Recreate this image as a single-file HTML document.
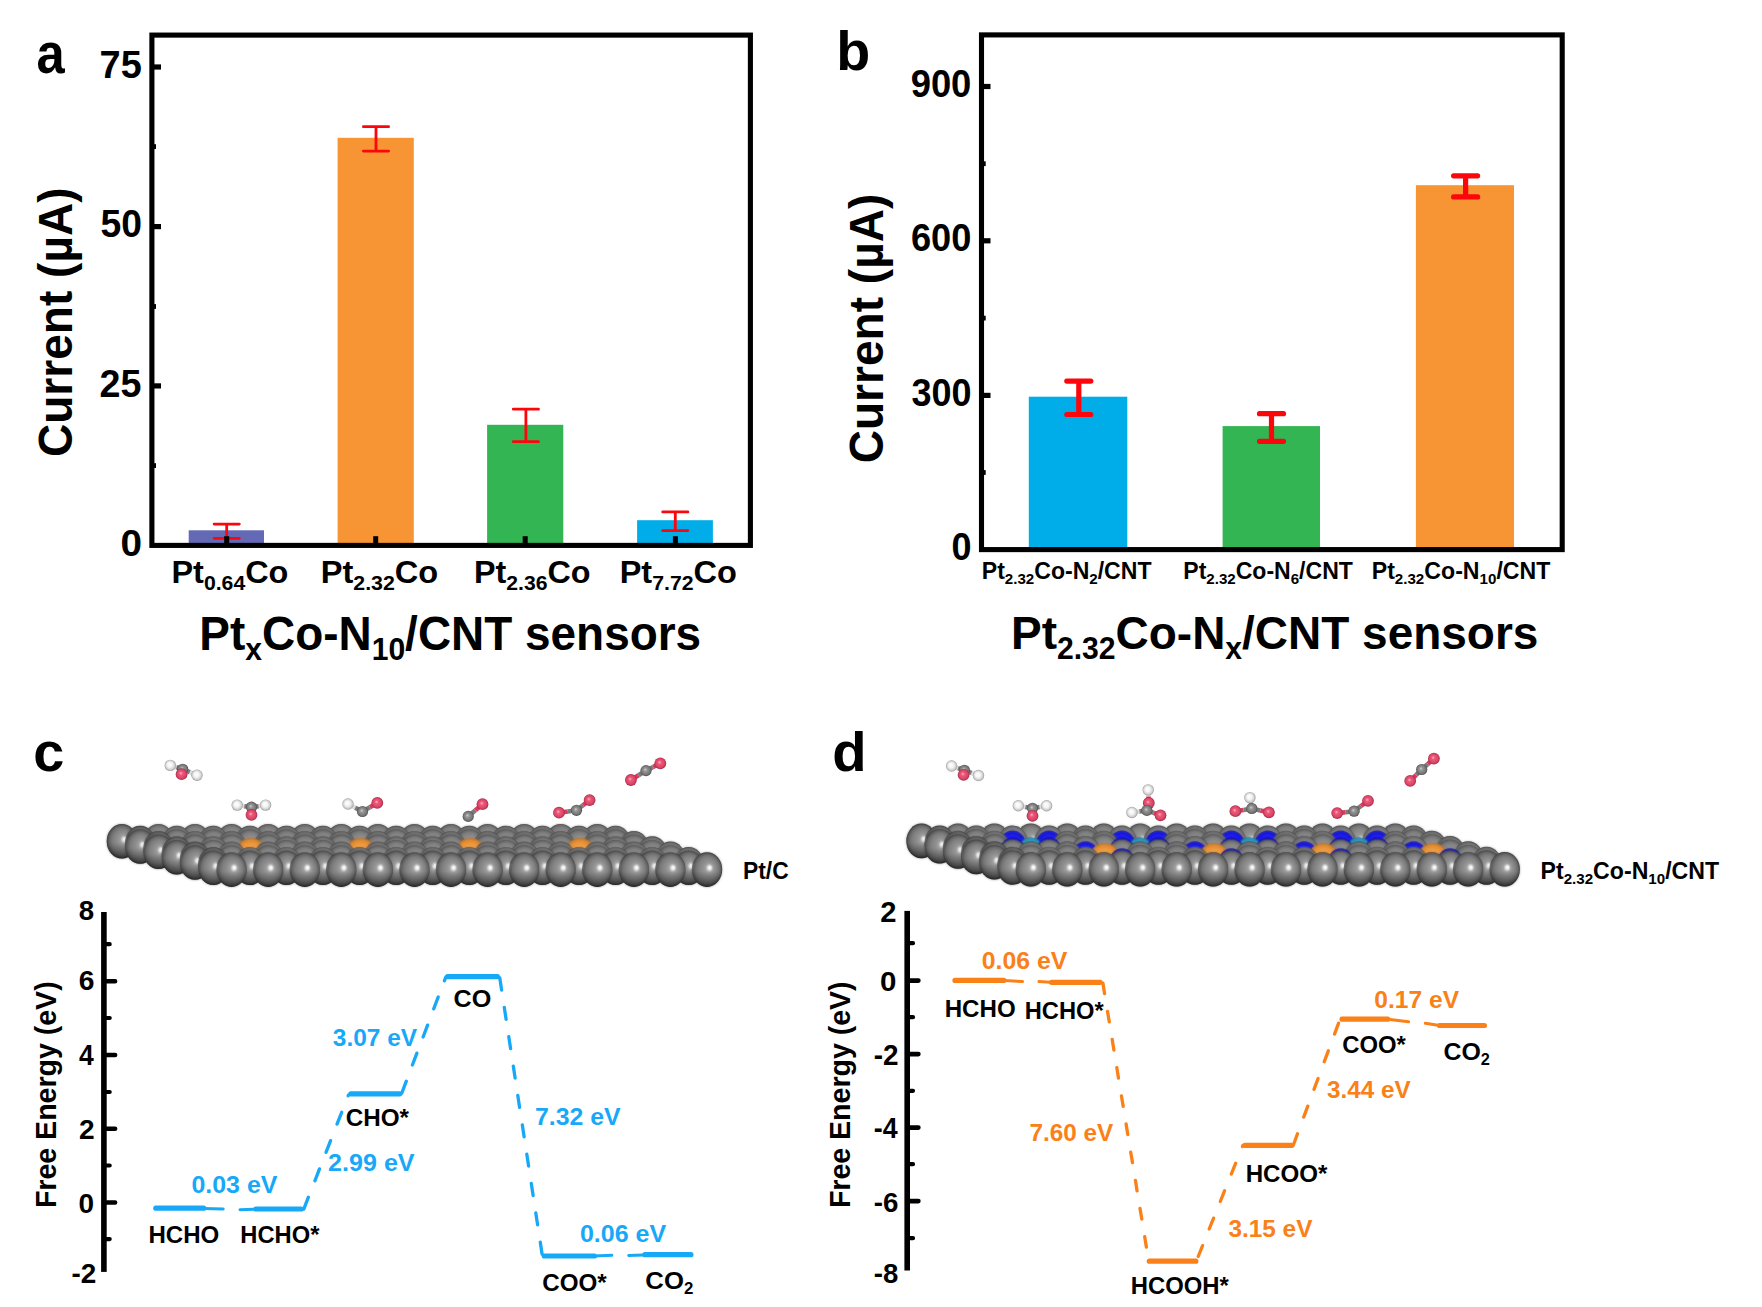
<!DOCTYPE html>
<html><head><meta charset="utf-8"><title>Figure</title>
<style>html,body{margin:0;padding:0;background:#fff;}svg{display:block;}text{font-family:"Liberation Sans",sans-serif;font-weight:bold;}</style></head>
<body>
<svg width="1762" height="1307" viewBox="0 0 1762 1307">
<defs>
<radialGradient id="gC" cx="0.5" cy="0.5" r="0.5" fx="0.6" fy="0.44"><stop offset="0" stop-color="#ffffff"/><stop offset="0.08" stop-color="#ffffff"/><stop offset="0.15" stop-color="#d2d2d2"/><stop offset="0.24" stop-color="#9e9e9e"/><stop offset="0.42" stop-color="#8e8e8e"/><stop offset="0.62" stop-color="#828282"/><stop offset="0.8" stop-color="#707070"/><stop offset="0.9" stop-color="#5c5c5c"/><stop offset="0.96" stop-color="#464646"/><stop offset="1" stop-color="#323232"/></radialGradient>
<radialGradient id="gCt" cx="0.5" cy="0.5" r="0.5" fx="0.6" fy="0.44"><stop offset="0" stop-color="#ffffff"/><stop offset="0.08" stop-color="#ffffff"/><stop offset="0.15" stop-color="#d2d2d2"/><stop offset="0.24" stop-color="#9e9e9e"/><stop offset="0.42" stop-color="#909090"/><stop offset="0.62" stop-color="#888888"/><stop offset="0.8" stop-color="#7c7c7c"/><stop offset="0.9" stop-color="#6c6c6c"/><stop offset="0.96" stop-color="#585858"/><stop offset="1" stop-color="#424242"/></radialGradient>
<linearGradient id="shade" x1="0" y1="0" x2="0" y2="1"><stop offset="0" stop-color="#000" stop-opacity="0"/><stop offset="0.55" stop-color="#000" stop-opacity="0"/><stop offset="1" stop-color="#000" stop-opacity="0.42"/></linearGradient>
<radialGradient id="gPt" cx="0.5" cy="0.5" r="0.5" fx="0.5" fy="0.5"><stop offset="0" stop-color="#f6a84e"/><stop offset="0.6" stop-color="#f09c42"/><stop offset="0.88" stop-color="#dc8a30"/><stop offset="1" stop-color="#b06a20"/></radialGradient>
<radialGradient id="gN" cx="0.5" cy="0.5" r="0.5" fx="0.5" fy="0.5"><stop offset="0" stop-color="#2424ff"/><stop offset="0.7" stop-color="#1c1cf4"/><stop offset="0.92" stop-color="#1414cc"/><stop offset="1" stop-color="#0a0a90"/></radialGradient>
<radialGradient id="gCo" cx="0.5" cy="0.5" r="0.5" fx="0.5" fy="0.5"><stop offset="0" stop-color="#34b4d8"/><stop offset="0.7" stop-color="#2aa6cc"/><stop offset="0.92" stop-color="#208cb0"/><stop offset="1" stop-color="#146080"/></radialGradient>
<radialGradient id="sH" cx="0.5" cy="0.5" r="0.5" fx="0.42" fy="0.4"><stop offset="0" stop-color="#ffffff"/><stop offset="0.45" stop-color="#f4f4f4"/><stop offset="0.8" stop-color="#cfcfcf"/><stop offset="1" stop-color="#9a9a9a"/></radialGradient>
<radialGradient id="sO" cx="0.5" cy="0.5" r="0.5" fx="0.42" fy="0.4"><stop offset="0" stop-color="#ffb4c4"/><stop offset="0.3" stop-color="#ee5a7a"/><stop offset="0.75" stop-color="#da4466"/><stop offset="1" stop-color="#a02c4a"/></radialGradient>
<radialGradient id="sC" cx="0.5" cy="0.5" r="0.5" fx="0.42" fy="0.4"><stop offset="0" stop-color="#d0d0d0"/><stop offset="0.3" stop-color="#969696"/><stop offset="0.8" stop-color="#747474"/><stop offset="1" stop-color="#4a4a4a"/></radialGradient>
<filter id="soft" x="-5%" y="-20%" width="110%" height="140%"><feGaussianBlur stdDeviation="0.75"/></filter>
<filter id="soft2" x="-5%" y="-20%" width="110%" height="140%"><feGaussianBlur stdDeviation="1.0"/></filter>
</defs>
<g id="pa">
<rect x="188.7" y="530.3" width="75.3" height="15.1" fill="#6369B5"/>
<rect x="337.6" y="137.8" width="76.2" height="407.6" fill="#F79433"/>
<rect x="487.1" y="424.8" width="76.2" height="120.6" fill="#33B554"/>
<rect x="637.1" y="520.2" width="75.8" height="25.2" fill="#00ADE9"/>
<rect x="151.9" y="35.1" width="598.5" height="510.3" fill="none" stroke="#000" stroke-width="5.1"/>
<rect x="154" y="64.4" width="7" height="5.2" fill="#000"/>
<rect x="154" y="224.0" width="7" height="5.2" fill="#000"/>
<rect x="154" y="383.29999999999995" width="7" height="5.2" fill="#000"/>
<rect x="154" y="144.2" width="2" height="4.8" fill="#000"/>
<rect x="154" y="304.1" width="2" height="4.8" fill="#000"/>
<rect x="154" y="463.20000000000005" width="2" height="4.8" fill="#000"/>
<path d="M214.1 524.1H239.29999999999998M214.1 538.3H239.29999999999998M226.7 524.1V538.3" stroke="#FC060C" stroke-width="2.8" fill="none" stroke-linecap="round"/>
<path d="M363.4 126.7H388.6M363.4 151.1H388.6M376.0 126.7V151.1" stroke="#FC060C" stroke-width="2.8" fill="none" stroke-linecap="round"/>
<path d="M513.3 409.2H538.5M513.3 441.7H538.5M525.9 409.2V441.7" stroke="#FC060C" stroke-width="2.8" fill="none" stroke-linecap="round"/>
<path d="M662.6999999999999 511.9H687.9M662.6999999999999 530.6H687.9M675.3 511.9V530.6" stroke="#FC060C" stroke-width="2.8" fill="none" stroke-linecap="round"/>
<rect x="224.2" y="536.2" width="5" height="8" fill="#000"/>
<rect x="373.2" y="536.2" width="5" height="8" fill="#000"/>
<rect x="522.7" y="536.2" width="5" height="8" fill="#000"/>
<rect x="672.9" y="536.2" width="5" height="8" fill="#000"/>
<text transform="translate(99.58,77.66) scale(1,1.0247)" font-size="37.99" fill="#000">75</text>
<text transform="translate(100.48,237.01) scale(1,1.0420)" font-size="37.31" fill="#000">50</text>
<text transform="translate(99.58,396.52) scale(1,1.0146)" font-size="37.62" fill="#000">25</text>
<text transform="translate(120.55,555.63) scale(1,0.9672)" font-size="38.74" fill="#000">0</text>
<text transform="translate(171.49,582.80) scale(1,0.9832)" font-size="32.43" fill="#000">Pt<tspan dy="6.97" font-size="21.24">0.64</tspan><tspan dy="-6.97">Co</tspan></text>
<text transform="translate(320.68,582.80) scale(1,0.9780)" font-size="32.60" fill="#000">Pt<tspan dy="7.01" font-size="21.35">2.32</tspan><tspan dy="-7.01">Co</tspan></text>
<text transform="translate(473.90,582.80) scale(1,0.9858)" font-size="32.34" fill="#000">Pt<tspan dy="6.95" font-size="21.18">2.36</tspan><tspan dy="-6.95">Co</tspan></text>
<text transform="translate(619.69,582.80) scale(1,0.9806)" font-size="32.51" fill="#000">Pt<tspan dy="6.99" font-size="21.30">7.72</tspan><tspan dy="-6.99">Co</tspan></text>
<text transform="translate(199.31,649.90) scale(1,1.0317)" font-size="45.93" fill="#000">Pt<tspan dy="9.88" font-size="30.09">x</tspan><tspan dy="-9.88">Co-N</tspan><tspan dy="9.88" font-size="30.09">10</tspan><tspan dy="-9.88">/CNT sensors</tspan></text>
<text transform="translate(71.90,457.04) rotate(-90) scale(1,1.0412)" font-size="46.07" fill="#000">Current (µA)</text>
<text transform="translate(36.38,72.63) scale(1,1.1199)" font-size="50.65" fill="#000">a</text>
</g>
<g id="pb">
<rect x="1028.8" y="396.7" width="98.5" height="152.9" fill="#00ADE9"/>
<rect x="1222.6" y="426.1" width="97.4" height="123.5" fill="#33B554"/>
<rect x="1415.9" y="185.2" width="98.1" height="364.4" fill="#F79433"/>
<rect x="981.5" y="34.9" width="580.7" height="514.7" fill="none" stroke="#000" stroke-width="5.1"/>
<rect x="983.5" y="83.9" width="7" height="5.2" fill="#000"/>
<rect x="983.5" y="238.20000000000002" width="7" height="5.2" fill="#000"/>
<rect x="983.5" y="392.79999999999995" width="7" height="5.2" fill="#000"/>
<rect x="983.5" y="161.29999999999998" width="2.2" height="4.8" fill="#000"/>
<rect x="983.5" y="315.70000000000005" width="2.2" height="4.8" fill="#000"/>
<rect x="983.5" y="470.1" width="2.2" height="4.8" fill="#000"/>
<path d="M1066.8 381.1H1090.8M1066.8 414.5H1090.8M1078.8 381.1V414.5" stroke="#FC060C" stroke-width="5.2" fill="none" stroke-linecap="round"/>
<path d="M1259.5 413.7H1283.5M1259.5 441.3H1283.5M1271.5 413.7V441.3" stroke="#FC060C" stroke-width="5.2" fill="none" stroke-linecap="round"/>
<path d="M1453.6 175.8H1477.6M1453.6 196.9H1477.6M1465.6 175.8V196.9" stroke="#FC060C" stroke-width="5.2" fill="none" stroke-linecap="round"/>
<text transform="translate(910.63,96.72) scale(1,1.0443)" font-size="36.42" fill="#000">900</text>
<text transform="translate(910.93,251.41) scale(1,1.0653)" font-size="36.23" fill="#000">600</text>
<text transform="translate(911.50,406.21) scale(1,1.0759)" font-size="36.00" fill="#000">300</text>
<text transform="translate(951.46,559.82) scale(1,1.0524)" font-size="36.00" fill="#000">0</text>
<text transform="translate(981.80,578.80) scale(1,1.0238)" font-size="23.07" fill="#000">Pt<tspan dy="4.96" font-size="15.11">2.32</tspan><tspan dy="-4.96">Co-N</tspan><tspan dy="4.96" font-size="15.11">2</tspan><tspan dy="-4.96">/CNT</tspan></text>
<text transform="translate(1183.30,578.80) scale(1,1.0250)" font-size="23.05" fill="#000">Pt<tspan dy="4.96" font-size="15.10">2.32</tspan><tspan dy="-4.96">Co-N</tspan><tspan dy="4.96" font-size="15.10">6</tspan><tspan dy="-4.96">/CNT</tspan></text>
<text transform="translate(1371.70,578.80) scale(1,1.0210)" font-size="23.14" fill="#000">Pt<tspan dy="4.97" font-size="15.15">2.32</tspan><tspan dy="-4.97">Co-N</tspan><tspan dy="4.97" font-size="15.15">10</tspan><tspan dy="-4.97">/CNT</tspan></text>
<text transform="translate(1011.01,648.50) scale(1,1.0181)" font-size="45.98" fill="#000">Pt<tspan dy="9.89" font-size="30.12">2.32</tspan><tspan dy="-9.89">Co-N</tspan><tspan dy="9.89" font-size="30.12">x</tspan><tspan dy="-9.89">/CNT sensors</tspan></text>
<text transform="translate(883.00,463.34) rotate(-90) scale(1,1.0408)" font-size="46.09" fill="#000">Current (µA)</text>
<text transform="translate(836.28,70.05) scale(1,0.9927)" font-size="55.64" fill="#000">b</text>
</g>
<g filter="url(#soft)"><g id="slabc">
<ellipse cx="121.9" cy="841.2" rx="15.2" ry="17.3" fill="url(#gC)"/>
<ellipse cx="121.9" cy="841.2" rx="15.2" ry="17.3" fill="url(#shade)"/>
<ellipse cx="158.5" cy="841.2" rx="15.2" ry="17.3" fill="url(#gCt)"/>
<ellipse cx="195.0" cy="841.2" rx="15.2" ry="17.3" fill="url(#gCt)"/>
<ellipse cx="231.6" cy="841.2" rx="15.2" ry="17.3" fill="url(#gCt)"/>
<ellipse cx="268.2" cy="841.2" rx="15.2" ry="17.3" fill="url(#gCt)"/>
<ellipse cx="304.8" cy="841.2" rx="15.2" ry="17.3" fill="url(#gCt)"/>
<ellipse cx="341.3" cy="841.2" rx="15.2" ry="17.3" fill="url(#gCt)"/>
<ellipse cx="377.9" cy="841.2" rx="15.2" ry="17.3" fill="url(#gCt)"/>
<ellipse cx="414.5" cy="841.2" rx="15.2" ry="17.3" fill="url(#gCt)"/>
<ellipse cx="451.0" cy="841.2" rx="15.2" ry="17.3" fill="url(#gCt)"/>
<ellipse cx="487.6" cy="841.2" rx="15.2" ry="17.3" fill="url(#gCt)"/>
<ellipse cx="524.2" cy="841.2" rx="15.2" ry="17.3" fill="url(#gCt)"/>
<ellipse cx="560.7" cy="841.2" rx="15.2" ry="17.3" fill="url(#gCt)"/>
<ellipse cx="597.3" cy="841.2" rx="15.2" ry="17.3" fill="url(#gCt)"/>
<ellipse cx="140.2" cy="843.0" rx="15.2" ry="17.3" fill="url(#gC)"/>
<ellipse cx="140.2" cy="843.0" rx="15.2" ry="17.3" fill="url(#shade)"/>
<ellipse cx="176.8" cy="843.0" rx="15.2" ry="17.3" fill="url(#gCt)"/>
<ellipse cx="213.3" cy="843.0" rx="15.2" ry="17.3" fill="url(#gCt)"/>
<ellipse cx="249.9" cy="843.0" rx="15.2" ry="17.3" fill="url(#gCt)"/>
<ellipse cx="286.5" cy="843.0" rx="15.2" ry="17.3" fill="url(#gCt)"/>
<ellipse cx="323.0" cy="843.0" rx="15.2" ry="17.3" fill="url(#gCt)"/>
<ellipse cx="359.6" cy="843.0" rx="15.2" ry="17.3" fill="url(#gCt)"/>
<ellipse cx="396.2" cy="843.0" rx="15.2" ry="17.3" fill="url(#gCt)"/>
<ellipse cx="432.7" cy="843.0" rx="15.2" ry="17.3" fill="url(#gCt)"/>
<ellipse cx="469.3" cy="843.0" rx="15.2" ry="17.3" fill="url(#gCt)"/>
<ellipse cx="505.9" cy="843.0" rx="15.2" ry="17.3" fill="url(#gCt)"/>
<ellipse cx="542.5" cy="843.0" rx="15.2" ry="17.3" fill="url(#gCt)"/>
<ellipse cx="579.0" cy="843.0" rx="15.2" ry="17.3" fill="url(#gCt)"/>
<ellipse cx="615.6" cy="843.0" rx="15.2" ry="17.3" fill="url(#gCt)"/>
<ellipse cx="140.2" cy="846.5" rx="15.2" ry="17.3" fill="url(#gC)"/>
<ellipse cx="140.2" cy="846.5" rx="15.2" ry="17.3" fill="url(#shade)"/>
<ellipse cx="176.8" cy="846.5" rx="15.2" ry="17.3" fill="url(#gCt)"/>
<ellipse cx="213.3" cy="846.5" rx="15.2" ry="17.3" fill="url(#gCt)"/>
<ellipse cx="249.9" cy="846.5" rx="15.2" ry="17.3" fill="url(#gCt)"/>
<ellipse cx="286.5" cy="846.5" rx="15.2" ry="17.3" fill="url(#gCt)"/>
<ellipse cx="323.0" cy="846.5" rx="15.2" ry="17.3" fill="url(#gCt)"/>
<ellipse cx="359.6" cy="846.5" rx="15.2" ry="17.3" fill="url(#gCt)"/>
<ellipse cx="396.2" cy="846.5" rx="15.2" ry="17.3" fill="url(#gCt)"/>
<ellipse cx="432.7" cy="846.5" rx="15.2" ry="17.3" fill="url(#gCt)"/>
<ellipse cx="469.3" cy="846.5" rx="15.2" ry="17.3" fill="url(#gCt)"/>
<ellipse cx="505.9" cy="846.5" rx="15.2" ry="17.3" fill="url(#gCt)"/>
<ellipse cx="542.5" cy="846.5" rx="15.2" ry="17.3" fill="url(#gCt)"/>
<ellipse cx="579.0" cy="846.5" rx="15.2" ry="17.3" fill="url(#gCt)"/>
<ellipse cx="615.6" cy="846.5" rx="15.2" ry="17.3" fill="url(#gCt)"/>
<ellipse cx="158.5" cy="848.3" rx="15.2" ry="17.3" fill="url(#gC)"/>
<ellipse cx="158.5" cy="848.3" rx="15.2" ry="17.3" fill="url(#shade)"/>
<ellipse cx="195.0" cy="848.3" rx="15.2" ry="17.3" fill="url(#gCt)"/>
<ellipse cx="231.6" cy="848.3" rx="15.2" ry="17.3" fill="url(#gCt)"/>
<ellipse cx="268.2" cy="848.3" rx="15.2" ry="17.3" fill="url(#gCt)"/>
<ellipse cx="304.8" cy="848.3" rx="15.2" ry="17.3" fill="url(#gCt)"/>
<ellipse cx="341.3" cy="848.3" rx="15.2" ry="17.3" fill="url(#gCt)"/>
<ellipse cx="377.9" cy="848.3" rx="15.2" ry="17.3" fill="url(#gCt)"/>
<ellipse cx="414.5" cy="848.3" rx="15.2" ry="17.3" fill="url(#gCt)"/>
<ellipse cx="451.0" cy="848.3" rx="15.2" ry="17.3" fill="url(#gCt)"/>
<ellipse cx="487.6" cy="848.3" rx="15.2" ry="17.3" fill="url(#gCt)"/>
<ellipse cx="524.2" cy="848.3" rx="15.2" ry="17.3" fill="url(#gCt)"/>
<ellipse cx="560.7" cy="848.3" rx="15.2" ry="17.3" fill="url(#gCt)"/>
<ellipse cx="597.3" cy="848.3" rx="15.2" ry="17.3" fill="url(#gCt)"/>
<ellipse cx="633.9" cy="848.3" rx="15.2" ry="17.3" fill="url(#gCt)"/>
<ellipse cx="158.5" cy="851.8" rx="15.2" ry="17.3" fill="url(#gC)"/>
<ellipse cx="158.5" cy="851.8" rx="15.2" ry="17.3" fill="url(#shade)"/>
<ellipse cx="195.0" cy="851.8" rx="15.2" ry="17.3" fill="url(#gCt)"/>
<ellipse cx="231.6" cy="851.8" rx="15.2" ry="17.3" fill="url(#gCt)"/>
<ellipse cx="268.2" cy="851.8" rx="15.2" ry="17.3" fill="url(#gCt)"/>
<ellipse cx="304.8" cy="851.8" rx="15.2" ry="17.3" fill="url(#gCt)"/>
<ellipse cx="341.3" cy="851.8" rx="15.2" ry="17.3" fill="url(#gCt)"/>
<ellipse cx="377.9" cy="851.8" rx="15.2" ry="17.3" fill="url(#gCt)"/>
<ellipse cx="414.5" cy="851.8" rx="15.2" ry="17.3" fill="url(#gCt)"/>
<ellipse cx="451.0" cy="851.8" rx="15.2" ry="17.3" fill="url(#gCt)"/>
<ellipse cx="487.6" cy="851.8" rx="15.2" ry="17.3" fill="url(#gCt)"/>
<ellipse cx="524.2" cy="851.8" rx="15.2" ry="17.3" fill="url(#gCt)"/>
<ellipse cx="560.7" cy="851.8" rx="15.2" ry="17.3" fill="url(#gCt)"/>
<ellipse cx="597.3" cy="851.8" rx="15.2" ry="17.3" fill="url(#gCt)"/>
<ellipse cx="633.9" cy="851.8" rx="15.2" ry="17.3" fill="url(#gCt)"/>
<ellipse cx="176.8" cy="853.6" rx="15.2" ry="17.3" fill="url(#gC)"/>
<ellipse cx="176.8" cy="853.6" rx="15.2" ry="17.3" fill="url(#shade)"/>
<ellipse cx="213.3" cy="853.6" rx="15.2" ry="17.3" fill="url(#gCt)"/>
<ellipse cx="286.5" cy="853.6" rx="15.2" ry="17.3" fill="url(#gCt)"/>
<ellipse cx="323.0" cy="853.6" rx="15.2" ry="17.3" fill="url(#gCt)"/>
<ellipse cx="396.2" cy="853.6" rx="15.2" ry="17.3" fill="url(#gCt)"/>
<ellipse cx="432.7" cy="853.6" rx="15.2" ry="17.3" fill="url(#gCt)"/>
<ellipse cx="505.9" cy="853.6" rx="15.2" ry="17.3" fill="url(#gCt)"/>
<ellipse cx="542.5" cy="853.6" rx="15.2" ry="17.3" fill="url(#gCt)"/>
<ellipse cx="615.6" cy="853.6" rx="15.2" ry="17.3" fill="url(#gCt)"/>
<ellipse cx="652.2" cy="853.6" rx="15.2" ry="17.3" fill="url(#gCt)"/>
<ellipse cx="251.0" cy="855.4" rx="16.3" ry="17.5" fill="url(#gPt)"/>
<ellipse cx="360.7" cy="855.4" rx="16.3" ry="17.5" fill="url(#gPt)"/>
<ellipse cx="470.4" cy="855.4" rx="16.3" ry="17.5" fill="url(#gPt)"/>
<ellipse cx="580.1" cy="855.4" rx="16.3" ry="17.5" fill="url(#gPt)"/>
<ellipse cx="176.8" cy="857.2" rx="15.2" ry="17.3" fill="url(#gC)"/>
<ellipse cx="176.8" cy="857.2" rx="15.2" ry="17.3" fill="url(#shade)"/>
<ellipse cx="213.3" cy="857.2" rx="15.2" ry="17.3" fill="url(#gCt)"/>
<ellipse cx="286.5" cy="857.2" rx="15.2" ry="17.3" fill="url(#gCt)"/>
<ellipse cx="323.0" cy="857.2" rx="15.2" ry="17.3" fill="url(#gCt)"/>
<ellipse cx="396.2" cy="857.2" rx="15.2" ry="17.3" fill="url(#gCt)"/>
<ellipse cx="432.7" cy="857.2" rx="15.2" ry="17.3" fill="url(#gCt)"/>
<ellipse cx="505.9" cy="857.2" rx="15.2" ry="17.3" fill="url(#gCt)"/>
<ellipse cx="542.5" cy="857.2" rx="15.2" ry="17.3" fill="url(#gCt)"/>
<ellipse cx="615.6" cy="857.2" rx="15.2" ry="17.3" fill="url(#gCt)"/>
<ellipse cx="652.2" cy="857.2" rx="15.2" ry="17.3" fill="url(#gCt)"/>
<ellipse cx="195.0" cy="858.9" rx="15.2" ry="17.3" fill="url(#gC)"/>
<ellipse cx="195.0" cy="858.9" rx="15.2" ry="17.3" fill="url(#shade)"/>
<ellipse cx="231.6" cy="858.9" rx="15.2" ry="17.3" fill="url(#gCt)"/>
<ellipse cx="268.2" cy="858.9" rx="15.2" ry="17.3" fill="url(#gCt)"/>
<ellipse cx="304.8" cy="858.9" rx="15.2" ry="17.3" fill="url(#gCt)"/>
<ellipse cx="341.3" cy="858.9" rx="15.2" ry="17.3" fill="url(#gCt)"/>
<ellipse cx="377.9" cy="858.9" rx="15.2" ry="17.3" fill="url(#gCt)"/>
<ellipse cx="414.5" cy="858.9" rx="15.2" ry="17.3" fill="url(#gCt)"/>
<ellipse cx="451.0" cy="858.9" rx="15.2" ry="17.3" fill="url(#gCt)"/>
<ellipse cx="487.6" cy="858.9" rx="15.2" ry="17.3" fill="url(#gCt)"/>
<ellipse cx="524.2" cy="858.9" rx="15.2" ry="17.3" fill="url(#gCt)"/>
<ellipse cx="560.7" cy="858.9" rx="15.2" ry="17.3" fill="url(#gCt)"/>
<ellipse cx="597.3" cy="858.9" rx="15.2" ry="17.3" fill="url(#gCt)"/>
<ellipse cx="633.9" cy="858.9" rx="15.2" ry="17.3" fill="url(#gCt)"/>
<ellipse cx="670.4" cy="858.9" rx="15.2" ry="17.3" fill="url(#gCt)"/>
<ellipse cx="195.0" cy="862.5" rx="15.2" ry="17.3" fill="url(#gC)"/>
<ellipse cx="195.0" cy="862.5" rx="15.2" ry="17.3" fill="url(#shade)"/>
<ellipse cx="231.6" cy="862.5" rx="15.2" ry="17.3" fill="url(#gCt)"/>
<ellipse cx="268.2" cy="862.5" rx="15.2" ry="17.3" fill="url(#gCt)"/>
<ellipse cx="304.8" cy="862.5" rx="15.2" ry="17.3" fill="url(#gCt)"/>
<ellipse cx="341.3" cy="862.5" rx="15.2" ry="17.3" fill="url(#gCt)"/>
<ellipse cx="377.9" cy="862.5" rx="15.2" ry="17.3" fill="url(#gCt)"/>
<ellipse cx="414.5" cy="862.5" rx="15.2" ry="17.3" fill="url(#gCt)"/>
<ellipse cx="451.0" cy="862.5" rx="15.2" ry="17.3" fill="url(#gCt)"/>
<ellipse cx="487.6" cy="862.5" rx="15.2" ry="17.3" fill="url(#gCt)"/>
<ellipse cx="524.2" cy="862.5" rx="15.2" ry="17.3" fill="url(#gCt)"/>
<ellipse cx="560.7" cy="862.5" rx="15.2" ry="17.3" fill="url(#gCt)"/>
<ellipse cx="597.3" cy="862.5" rx="15.2" ry="17.3" fill="url(#gCt)"/>
<ellipse cx="633.9" cy="862.5" rx="15.2" ry="17.3" fill="url(#gCt)"/>
<ellipse cx="670.5" cy="862.5" rx="15.2" ry="17.3" fill="url(#gCt)"/>
<ellipse cx="213.3" cy="864.3" rx="15.2" ry="17.3" fill="url(#gC)"/>
<ellipse cx="213.3" cy="864.3" rx="15.2" ry="17.3" fill="url(#shade)"/>
<ellipse cx="249.9" cy="864.3" rx="15.2" ry="17.3" fill="url(#gCt)"/>
<ellipse cx="286.5" cy="864.3" rx="15.2" ry="17.3" fill="url(#gCt)"/>
<ellipse cx="323.0" cy="864.3" rx="15.2" ry="17.3" fill="url(#gCt)"/>
<ellipse cx="359.6" cy="864.3" rx="15.2" ry="17.3" fill="url(#gCt)"/>
<ellipse cx="396.2" cy="864.3" rx="15.2" ry="17.3" fill="url(#gCt)"/>
<ellipse cx="432.7" cy="864.3" rx="15.2" ry="17.3" fill="url(#gCt)"/>
<ellipse cx="469.3" cy="864.3" rx="15.2" ry="17.3" fill="url(#gCt)"/>
<ellipse cx="505.9" cy="864.3" rx="15.2" ry="17.3" fill="url(#gCt)"/>
<ellipse cx="542.5" cy="864.3" rx="15.2" ry="17.3" fill="url(#gCt)"/>
<ellipse cx="579.0" cy="864.3" rx="15.2" ry="17.3" fill="url(#gCt)"/>
<ellipse cx="615.6" cy="864.3" rx="15.2" ry="17.3" fill="url(#gCt)"/>
<ellipse cx="652.2" cy="864.3" rx="15.2" ry="17.3" fill="url(#gCt)"/>
<ellipse cx="688.7" cy="864.3" rx="15.2" ry="17.3" fill="url(#gCt)"/>
<ellipse cx="213.3" cy="867.8" rx="15.2" ry="17.3" fill="url(#gC)"/>
<ellipse cx="213.3" cy="867.8" rx="15.2" ry="17.3" fill="url(#shade)"/>
<ellipse cx="249.9" cy="867.8" rx="15.2" ry="17.3" fill="url(#gC)"/>
<ellipse cx="249.9" cy="867.8" rx="15.2" ry="17.3" fill="url(#shade)"/>
<ellipse cx="286.5" cy="867.8" rx="15.2" ry="17.3" fill="url(#gC)"/>
<ellipse cx="286.5" cy="867.8" rx="15.2" ry="17.3" fill="url(#shade)"/>
<ellipse cx="323.0" cy="867.8" rx="15.2" ry="17.3" fill="url(#gC)"/>
<ellipse cx="323.0" cy="867.8" rx="15.2" ry="17.3" fill="url(#shade)"/>
<ellipse cx="359.6" cy="867.8" rx="15.2" ry="17.3" fill="url(#gC)"/>
<ellipse cx="359.6" cy="867.8" rx="15.2" ry="17.3" fill="url(#shade)"/>
<ellipse cx="396.2" cy="867.8" rx="15.2" ry="17.3" fill="url(#gC)"/>
<ellipse cx="396.2" cy="867.8" rx="15.2" ry="17.3" fill="url(#shade)"/>
<ellipse cx="432.7" cy="867.8" rx="15.2" ry="17.3" fill="url(#gC)"/>
<ellipse cx="432.7" cy="867.8" rx="15.2" ry="17.3" fill="url(#shade)"/>
<ellipse cx="469.3" cy="867.8" rx="15.2" ry="17.3" fill="url(#gC)"/>
<ellipse cx="469.3" cy="867.8" rx="15.2" ry="17.3" fill="url(#shade)"/>
<ellipse cx="505.9" cy="867.8" rx="15.2" ry="17.3" fill="url(#gC)"/>
<ellipse cx="505.9" cy="867.8" rx="15.2" ry="17.3" fill="url(#shade)"/>
<ellipse cx="542.5" cy="867.8" rx="15.2" ry="17.3" fill="url(#gC)"/>
<ellipse cx="542.5" cy="867.8" rx="15.2" ry="17.3" fill="url(#shade)"/>
<ellipse cx="579.0" cy="867.8" rx="15.2" ry="17.3" fill="url(#gC)"/>
<ellipse cx="579.0" cy="867.8" rx="15.2" ry="17.3" fill="url(#shade)"/>
<ellipse cx="615.6" cy="867.8" rx="15.2" ry="17.3" fill="url(#gC)"/>
<ellipse cx="615.6" cy="867.8" rx="15.2" ry="17.3" fill="url(#shade)"/>
<ellipse cx="652.2" cy="867.8" rx="15.2" ry="17.3" fill="url(#gC)"/>
<ellipse cx="652.2" cy="867.8" rx="15.2" ry="17.3" fill="url(#shade)"/>
<ellipse cx="688.7" cy="867.8" rx="15.2" ry="17.3" fill="url(#gC)"/>
<ellipse cx="688.7" cy="867.8" rx="15.2" ry="17.3" fill="url(#shade)"/>
<ellipse cx="231.6" cy="869.6" rx="15.2" ry="17.3" fill="url(#gC)"/>
<ellipse cx="231.6" cy="869.6" rx="15.2" ry="17.3" fill="url(#shade)"/>
<ellipse cx="268.2" cy="869.6" rx="15.2" ry="17.3" fill="url(#gC)"/>
<ellipse cx="268.2" cy="869.6" rx="15.2" ry="17.3" fill="url(#shade)"/>
<ellipse cx="304.8" cy="869.6" rx="15.2" ry="17.3" fill="url(#gC)"/>
<ellipse cx="304.8" cy="869.6" rx="15.2" ry="17.3" fill="url(#shade)"/>
<ellipse cx="341.3" cy="869.6" rx="15.2" ry="17.3" fill="url(#gC)"/>
<ellipse cx="341.3" cy="869.6" rx="15.2" ry="17.3" fill="url(#shade)"/>
<ellipse cx="377.9" cy="869.6" rx="15.2" ry="17.3" fill="url(#gC)"/>
<ellipse cx="377.9" cy="869.6" rx="15.2" ry="17.3" fill="url(#shade)"/>
<ellipse cx="414.5" cy="869.6" rx="15.2" ry="17.3" fill="url(#gC)"/>
<ellipse cx="414.5" cy="869.6" rx="15.2" ry="17.3" fill="url(#shade)"/>
<ellipse cx="451.0" cy="869.6" rx="15.2" ry="17.3" fill="url(#gC)"/>
<ellipse cx="451.0" cy="869.6" rx="15.2" ry="17.3" fill="url(#shade)"/>
<ellipse cx="487.6" cy="869.6" rx="15.2" ry="17.3" fill="url(#gC)"/>
<ellipse cx="487.6" cy="869.6" rx="15.2" ry="17.3" fill="url(#shade)"/>
<ellipse cx="524.2" cy="869.6" rx="15.2" ry="17.3" fill="url(#gC)"/>
<ellipse cx="524.2" cy="869.6" rx="15.2" ry="17.3" fill="url(#shade)"/>
<ellipse cx="560.7" cy="869.6" rx="15.2" ry="17.3" fill="url(#gC)"/>
<ellipse cx="560.7" cy="869.6" rx="15.2" ry="17.3" fill="url(#shade)"/>
<ellipse cx="597.3" cy="869.6" rx="15.2" ry="17.3" fill="url(#gC)"/>
<ellipse cx="597.3" cy="869.6" rx="15.2" ry="17.3" fill="url(#shade)"/>
<ellipse cx="633.9" cy="869.6" rx="15.2" ry="17.3" fill="url(#gC)"/>
<ellipse cx="633.9" cy="869.6" rx="15.2" ry="17.3" fill="url(#shade)"/>
<ellipse cx="670.4" cy="869.6" rx="15.2" ry="17.3" fill="url(#gC)"/>
<ellipse cx="670.4" cy="869.6" rx="15.2" ry="17.3" fill="url(#shade)"/>
<ellipse cx="707.0" cy="869.6" rx="15.2" ry="17.3" fill="url(#gC)"/>
<ellipse cx="707.0" cy="869.6" rx="15.2" ry="17.3" fill="url(#shade)"/>
</g></g>
<use href="#slabc" filter="url(#soft2)" opacity="0.5"/>
<g filter="url(#soft)"><g id="slabd">
<ellipse cx="921.5" cy="840.9" rx="15.2" ry="17.3" fill="url(#gC)"/>
<ellipse cx="921.5" cy="840.9" rx="15.2" ry="17.3" fill="url(#shade)"/>
<ellipse cx="958.0" cy="840.9" rx="15.2" ry="17.3" fill="url(#gCt)"/>
<ellipse cx="994.4" cy="840.9" rx="15.2" ry="17.3" fill="url(#gCt)"/>
<ellipse cx="1030.8" cy="840.9" rx="15.2" ry="17.3" fill="url(#gCt)"/>
<ellipse cx="1067.3" cy="840.9" rx="15.2" ry="17.3" fill="url(#gCt)"/>
<ellipse cx="1103.8" cy="840.9" rx="15.2" ry="17.3" fill="url(#gCt)"/>
<ellipse cx="1140.2" cy="840.9" rx="15.2" ry="17.3" fill="url(#gCt)"/>
<ellipse cx="1176.7" cy="840.9" rx="15.2" ry="17.3" fill="url(#gCt)"/>
<ellipse cx="1213.1" cy="840.9" rx="15.2" ry="17.3" fill="url(#gCt)"/>
<ellipse cx="1249.5" cy="840.9" rx="15.2" ry="17.3" fill="url(#gCt)"/>
<ellipse cx="1286.0" cy="840.9" rx="15.2" ry="17.3" fill="url(#gCt)"/>
<ellipse cx="1322.5" cy="840.9" rx="15.2" ry="17.3" fill="url(#gCt)"/>
<ellipse cx="1358.9" cy="840.9" rx="15.2" ry="17.3" fill="url(#gCt)"/>
<ellipse cx="1395.3" cy="840.9" rx="15.2" ry="17.3" fill="url(#gCt)"/>
<ellipse cx="939.7" cy="842.7" rx="15.2" ry="17.3" fill="url(#gC)"/>
<ellipse cx="939.7" cy="842.7" rx="15.2" ry="17.3" fill="url(#shade)"/>
<ellipse cx="976.2" cy="842.7" rx="15.2" ry="17.3" fill="url(#gCt)"/>
<ellipse cx="1012.6" cy="842.7" rx="15.2" ry="17.3" fill="url(#gCt)"/>
<ellipse cx="1049.1" cy="842.7" rx="15.2" ry="17.3" fill="url(#gCt)"/>
<ellipse cx="1085.5" cy="842.7" rx="15.2" ry="17.3" fill="url(#gCt)"/>
<ellipse cx="1122.0" cy="842.7" rx="15.2" ry="17.3" fill="url(#gCt)"/>
<ellipse cx="1158.4" cy="842.7" rx="15.2" ry="17.3" fill="url(#gCt)"/>
<ellipse cx="1194.9" cy="842.7" rx="15.2" ry="17.3" fill="url(#gCt)"/>
<ellipse cx="1231.3" cy="842.7" rx="15.2" ry="17.3" fill="url(#gCt)"/>
<ellipse cx="1267.8" cy="842.7" rx="15.2" ry="17.3" fill="url(#gCt)"/>
<ellipse cx="1304.2" cy="842.7" rx="15.2" ry="17.3" fill="url(#gCt)"/>
<ellipse cx="1340.7" cy="842.7" rx="15.2" ry="17.3" fill="url(#gCt)"/>
<ellipse cx="1377.1" cy="842.7" rx="15.2" ry="17.3" fill="url(#gCt)"/>
<ellipse cx="1413.6" cy="842.7" rx="15.2" ry="17.3" fill="url(#gCt)"/>
<ellipse cx="939.7" cy="846.2" rx="15.2" ry="17.3" fill="url(#gC)"/>
<ellipse cx="939.7" cy="846.2" rx="15.2" ry="17.3" fill="url(#shade)"/>
<ellipse cx="976.2" cy="846.2" rx="15.2" ry="17.3" fill="url(#gCt)"/>
<ellipse cx="1012.6" cy="846.2" rx="13.8" ry="15.7" fill="url(#gN)"/>
<ellipse cx="1049.1" cy="846.2" rx="13.8" ry="15.7" fill="url(#gN)"/>
<ellipse cx="1085.5" cy="846.2" rx="15.2" ry="17.3" fill="url(#gCt)"/>
<ellipse cx="1122.0" cy="846.2" rx="13.8" ry="15.7" fill="url(#gN)"/>
<ellipse cx="1158.4" cy="846.2" rx="13.8" ry="15.7" fill="url(#gN)"/>
<ellipse cx="1194.9" cy="846.2" rx="15.2" ry="17.3" fill="url(#gCt)"/>
<ellipse cx="1231.3" cy="846.2" rx="13.8" ry="15.7" fill="url(#gN)"/>
<ellipse cx="1267.8" cy="846.2" rx="13.8" ry="15.7" fill="url(#gN)"/>
<ellipse cx="1304.2" cy="846.2" rx="15.2" ry="17.3" fill="url(#gCt)"/>
<ellipse cx="1340.7" cy="846.2" rx="13.8" ry="15.7" fill="url(#gN)"/>
<ellipse cx="1377.1" cy="846.2" rx="13.8" ry="15.7" fill="url(#gN)"/>
<ellipse cx="1413.6" cy="846.2" rx="15.2" ry="17.3" fill="url(#gCt)"/>
<ellipse cx="958.0" cy="848.0" rx="15.2" ry="17.3" fill="url(#gC)"/>
<ellipse cx="958.0" cy="848.0" rx="15.2" ry="17.3" fill="url(#shade)"/>
<ellipse cx="994.4" cy="848.0" rx="15.2" ry="17.3" fill="url(#gCt)"/>
<ellipse cx="1067.3" cy="848.0" rx="15.2" ry="17.3" fill="url(#gCt)"/>
<ellipse cx="1103.8" cy="848.0" rx="15.2" ry="17.3" fill="url(#gCt)"/>
<ellipse cx="1176.7" cy="848.0" rx="15.2" ry="17.3" fill="url(#gCt)"/>
<ellipse cx="1213.1" cy="848.0" rx="15.2" ry="17.3" fill="url(#gCt)"/>
<ellipse cx="1286.0" cy="848.0" rx="15.2" ry="17.3" fill="url(#gCt)"/>
<ellipse cx="1322.5" cy="848.0" rx="15.2" ry="17.3" fill="url(#gCt)"/>
<ellipse cx="1395.4" cy="848.0" rx="15.2" ry="17.3" fill="url(#gCt)"/>
<ellipse cx="1431.8" cy="848.0" rx="15.2" ry="17.3" fill="url(#gCt)"/>
<ellipse cx="1030.8" cy="849.8" rx="12.5" ry="12.6" fill="url(#gCo)"/>
<ellipse cx="1140.2" cy="849.8" rx="12.5" ry="12.6" fill="url(#gCo)"/>
<ellipse cx="1249.5" cy="849.8" rx="12.5" ry="12.6" fill="url(#gCo)"/>
<ellipse cx="1358.9" cy="849.8" rx="12.5" ry="12.6" fill="url(#gCo)"/>
<ellipse cx="958.0" cy="851.5" rx="15.2" ry="17.3" fill="url(#gC)"/>
<ellipse cx="958.0" cy="851.5" rx="15.2" ry="17.3" fill="url(#shade)"/>
<ellipse cx="994.4" cy="851.5" rx="15.2" ry="17.3" fill="url(#gCt)"/>
<ellipse cx="1067.3" cy="851.5" rx="15.2" ry="17.3" fill="url(#gCt)"/>
<ellipse cx="1103.8" cy="851.5" rx="15.2" ry="17.3" fill="url(#gCt)"/>
<ellipse cx="1176.7" cy="851.5" rx="15.2" ry="17.3" fill="url(#gCt)"/>
<ellipse cx="1213.1" cy="851.5" rx="15.2" ry="17.3" fill="url(#gCt)"/>
<ellipse cx="1286.0" cy="851.5" rx="15.2" ry="17.3" fill="url(#gCt)"/>
<ellipse cx="1322.5" cy="851.5" rx="15.2" ry="17.3" fill="url(#gCt)"/>
<ellipse cx="1395.3" cy="851.5" rx="15.2" ry="17.3" fill="url(#gCt)"/>
<ellipse cx="1431.8" cy="851.5" rx="15.2" ry="17.3" fill="url(#gCt)"/>
<ellipse cx="976.2" cy="853.3" rx="15.2" ry="17.3" fill="url(#gC)"/>
<ellipse cx="976.2" cy="853.3" rx="15.2" ry="17.3" fill="url(#shade)"/>
<ellipse cx="1012.6" cy="853.3" rx="13.8" ry="15.7" fill="url(#gN)"/>
<ellipse cx="1049.1" cy="853.3" rx="13.8" ry="15.7" fill="url(#gN)"/>
<ellipse cx="1085.5" cy="853.3" rx="15.2" ry="17.3" fill="url(#gCt)"/>
<ellipse cx="1122.0" cy="853.3" rx="13.8" ry="15.7" fill="url(#gN)"/>
<ellipse cx="1158.4" cy="853.3" rx="13.8" ry="15.7" fill="url(#gN)"/>
<ellipse cx="1194.9" cy="853.3" rx="15.2" ry="17.3" fill="url(#gCt)"/>
<ellipse cx="1231.3" cy="853.3" rx="13.8" ry="15.7" fill="url(#gN)"/>
<ellipse cx="1267.8" cy="853.3" rx="13.8" ry="15.7" fill="url(#gN)"/>
<ellipse cx="1304.2" cy="853.3" rx="15.2" ry="17.3" fill="url(#gCt)"/>
<ellipse cx="1340.7" cy="853.3" rx="13.8" ry="15.7" fill="url(#gN)"/>
<ellipse cx="1377.1" cy="853.3" rx="13.8" ry="15.7" fill="url(#gN)"/>
<ellipse cx="1413.6" cy="853.3" rx="15.2" ry="17.3" fill="url(#gCt)"/>
<ellipse cx="1450.0" cy="853.3" rx="15.2" ry="17.3" fill="url(#gCt)"/>
<ellipse cx="976.2" cy="856.9" rx="15.2" ry="17.3" fill="url(#gC)"/>
<ellipse cx="976.2" cy="856.9" rx="15.2" ry="17.3" fill="url(#shade)"/>
<ellipse cx="1012.6" cy="856.9" rx="15.2" ry="17.3" fill="url(#gCt)"/>
<ellipse cx="1049.1" cy="856.9" rx="15.2" ry="17.3" fill="url(#gCt)"/>
<ellipse cx="1085.5" cy="856.9" rx="13.8" ry="15.7" fill="url(#gN)"/>
<ellipse cx="1122.0" cy="856.9" rx="15.2" ry="17.3" fill="url(#gCt)"/>
<ellipse cx="1158.4" cy="856.9" rx="15.2" ry="17.3" fill="url(#gCt)"/>
<ellipse cx="1194.9" cy="856.9" rx="13.8" ry="15.7" fill="url(#gN)"/>
<ellipse cx="1231.3" cy="856.9" rx="15.2" ry="17.3" fill="url(#gCt)"/>
<ellipse cx="1267.8" cy="856.9" rx="15.2" ry="17.3" fill="url(#gCt)"/>
<ellipse cx="1304.2" cy="856.9" rx="13.8" ry="15.7" fill="url(#gN)"/>
<ellipse cx="1340.7" cy="856.9" rx="15.2" ry="17.3" fill="url(#gCt)"/>
<ellipse cx="1377.1" cy="856.9" rx="15.2" ry="17.3" fill="url(#gCt)"/>
<ellipse cx="1413.6" cy="856.9" rx="13.8" ry="15.7" fill="url(#gN)"/>
<ellipse cx="1450.0" cy="856.9" rx="15.2" ry="17.3" fill="url(#gCt)"/>
<ellipse cx="994.4" cy="858.6" rx="15.2" ry="17.3" fill="url(#gC)"/>
<ellipse cx="994.4" cy="858.6" rx="15.2" ry="17.3" fill="url(#shade)"/>
<ellipse cx="1030.8" cy="858.6" rx="15.2" ry="17.3" fill="url(#gCt)"/>
<ellipse cx="1067.3" cy="858.6" rx="15.2" ry="17.3" fill="url(#gCt)"/>
<ellipse cx="1140.2" cy="858.6" rx="15.2" ry="17.3" fill="url(#gCt)"/>
<ellipse cx="1176.7" cy="858.6" rx="15.2" ry="17.3" fill="url(#gCt)"/>
<ellipse cx="1249.6" cy="858.6" rx="15.2" ry="17.3" fill="url(#gCt)"/>
<ellipse cx="1286.0" cy="858.6" rx="15.2" ry="17.3" fill="url(#gCt)"/>
<ellipse cx="1358.9" cy="858.6" rx="15.2" ry="17.3" fill="url(#gCt)"/>
<ellipse cx="1395.4" cy="858.6" rx="15.2" ry="17.3" fill="url(#gCt)"/>
<ellipse cx="1468.2" cy="858.6" rx="15.2" ry="17.3" fill="url(#gCt)"/>
<ellipse cx="1104.8" cy="860.4" rx="16.3" ry="17.5" fill="url(#gPt)"/>
<ellipse cx="1214.2" cy="860.4" rx="16.3" ry="17.5" fill="url(#gPt)"/>
<ellipse cx="1323.5" cy="860.4" rx="16.3" ry="17.5" fill="url(#gPt)"/>
<ellipse cx="1432.9" cy="860.4" rx="16.3" ry="17.5" fill="url(#gPt)"/>
<ellipse cx="994.4" cy="862.2" rx="15.2" ry="17.3" fill="url(#gC)"/>
<ellipse cx="994.4" cy="862.2" rx="15.2" ry="17.3" fill="url(#shade)"/>
<ellipse cx="1030.8" cy="862.2" rx="15.2" ry="17.3" fill="url(#gCt)"/>
<ellipse cx="1067.3" cy="862.2" rx="15.2" ry="17.3" fill="url(#gCt)"/>
<ellipse cx="1140.2" cy="862.2" rx="15.2" ry="17.3" fill="url(#gCt)"/>
<ellipse cx="1176.7" cy="862.2" rx="15.2" ry="17.3" fill="url(#gCt)"/>
<ellipse cx="1249.6" cy="862.2" rx="15.2" ry="17.3" fill="url(#gCt)"/>
<ellipse cx="1286.0" cy="862.2" rx="15.2" ry="17.3" fill="url(#gCt)"/>
<ellipse cx="1358.9" cy="862.2" rx="15.2" ry="17.3" fill="url(#gCt)"/>
<ellipse cx="1395.3" cy="862.2" rx="15.2" ry="17.3" fill="url(#gCt)"/>
<ellipse cx="1468.2" cy="862.2" rx="15.2" ry="17.3" fill="url(#gCt)"/>
<ellipse cx="1012.6" cy="864.0" rx="15.2" ry="17.3" fill="url(#gC)"/>
<ellipse cx="1012.6" cy="864.0" rx="15.2" ry="17.3" fill="url(#shade)"/>
<ellipse cx="1049.1" cy="864.0" rx="15.2" ry="17.3" fill="url(#gCt)"/>
<ellipse cx="1085.5" cy="864.0" rx="15.2" ry="17.3" fill="url(#gCt)"/>
<ellipse cx="1122.0" cy="864.0" rx="13.8" ry="15.7" fill="url(#gN)"/>
<ellipse cx="1158.4" cy="864.0" rx="15.2" ry="17.3" fill="url(#gCt)"/>
<ellipse cx="1194.9" cy="864.0" rx="15.2" ry="17.3" fill="url(#gCt)"/>
<ellipse cx="1231.3" cy="864.0" rx="13.8" ry="15.7" fill="url(#gN)"/>
<ellipse cx="1267.8" cy="864.0" rx="15.2" ry="17.3" fill="url(#gCt)"/>
<ellipse cx="1304.2" cy="864.0" rx="15.2" ry="17.3" fill="url(#gCt)"/>
<ellipse cx="1340.7" cy="864.0" rx="13.8" ry="15.7" fill="url(#gN)"/>
<ellipse cx="1377.1" cy="864.0" rx="15.2" ry="17.3" fill="url(#gCt)"/>
<ellipse cx="1413.6" cy="864.0" rx="15.2" ry="17.3" fill="url(#gCt)"/>
<ellipse cx="1450.0" cy="864.0" rx="13.8" ry="15.7" fill="url(#gN)"/>
<ellipse cx="1486.5" cy="864.0" rx="15.2" ry="17.3" fill="url(#gCt)"/>
<ellipse cx="1012.6" cy="867.5" rx="15.2" ry="17.3" fill="url(#gC)"/>
<ellipse cx="1012.6" cy="867.5" rx="15.2" ry="17.3" fill="url(#shade)"/>
<ellipse cx="1049.1" cy="867.5" rx="15.2" ry="17.3" fill="url(#gC)"/>
<ellipse cx="1049.1" cy="867.5" rx="15.2" ry="17.3" fill="url(#shade)"/>
<ellipse cx="1085.5" cy="867.5" rx="15.2" ry="17.3" fill="url(#gC)"/>
<ellipse cx="1085.5" cy="867.5" rx="15.2" ry="17.3" fill="url(#shade)"/>
<ellipse cx="1122.0" cy="867.5" rx="15.2" ry="17.3" fill="url(#gC)"/>
<ellipse cx="1122.0" cy="867.5" rx="15.2" ry="17.3" fill="url(#shade)"/>
<ellipse cx="1158.4" cy="867.5" rx="15.2" ry="17.3" fill="url(#gC)"/>
<ellipse cx="1158.4" cy="867.5" rx="15.2" ry="17.3" fill="url(#shade)"/>
<ellipse cx="1194.9" cy="867.5" rx="15.2" ry="17.3" fill="url(#gC)"/>
<ellipse cx="1194.9" cy="867.5" rx="15.2" ry="17.3" fill="url(#shade)"/>
<ellipse cx="1231.3" cy="867.5" rx="15.2" ry="17.3" fill="url(#gC)"/>
<ellipse cx="1231.3" cy="867.5" rx="15.2" ry="17.3" fill="url(#shade)"/>
<ellipse cx="1267.8" cy="867.5" rx="15.2" ry="17.3" fill="url(#gC)"/>
<ellipse cx="1267.8" cy="867.5" rx="15.2" ry="17.3" fill="url(#shade)"/>
<ellipse cx="1304.2" cy="867.5" rx="15.2" ry="17.3" fill="url(#gC)"/>
<ellipse cx="1304.2" cy="867.5" rx="15.2" ry="17.3" fill="url(#shade)"/>
<ellipse cx="1340.7" cy="867.5" rx="15.2" ry="17.3" fill="url(#gC)"/>
<ellipse cx="1340.7" cy="867.5" rx="15.2" ry="17.3" fill="url(#shade)"/>
<ellipse cx="1377.1" cy="867.5" rx="15.2" ry="17.3" fill="url(#gC)"/>
<ellipse cx="1377.1" cy="867.5" rx="15.2" ry="17.3" fill="url(#shade)"/>
<ellipse cx="1413.6" cy="867.5" rx="15.2" ry="17.3" fill="url(#gC)"/>
<ellipse cx="1413.6" cy="867.5" rx="15.2" ry="17.3" fill="url(#shade)"/>
<ellipse cx="1450.0" cy="867.5" rx="15.2" ry="17.3" fill="url(#gC)"/>
<ellipse cx="1450.0" cy="867.5" rx="15.2" ry="17.3" fill="url(#shade)"/>
<ellipse cx="1486.5" cy="867.5" rx="15.2" ry="17.3" fill="url(#gC)"/>
<ellipse cx="1486.5" cy="867.5" rx="15.2" ry="17.3" fill="url(#shade)"/>
<ellipse cx="1030.8" cy="869.3" rx="15.2" ry="17.3" fill="url(#gC)"/>
<ellipse cx="1030.8" cy="869.3" rx="15.2" ry="17.3" fill="url(#shade)"/>
<ellipse cx="1067.3" cy="869.3" rx="15.2" ry="17.3" fill="url(#gC)"/>
<ellipse cx="1067.3" cy="869.3" rx="15.2" ry="17.3" fill="url(#shade)"/>
<ellipse cx="1103.8" cy="869.3" rx="15.2" ry="17.3" fill="url(#gC)"/>
<ellipse cx="1103.8" cy="869.3" rx="15.2" ry="17.3" fill="url(#shade)"/>
<ellipse cx="1140.2" cy="869.3" rx="15.2" ry="17.3" fill="url(#gC)"/>
<ellipse cx="1140.2" cy="869.3" rx="15.2" ry="17.3" fill="url(#shade)"/>
<ellipse cx="1176.7" cy="869.3" rx="15.2" ry="17.3" fill="url(#gC)"/>
<ellipse cx="1176.7" cy="869.3" rx="15.2" ry="17.3" fill="url(#shade)"/>
<ellipse cx="1213.1" cy="869.3" rx="15.2" ry="17.3" fill="url(#gC)"/>
<ellipse cx="1213.1" cy="869.3" rx="15.2" ry="17.3" fill="url(#shade)"/>
<ellipse cx="1249.6" cy="869.3" rx="15.2" ry="17.3" fill="url(#gC)"/>
<ellipse cx="1249.6" cy="869.3" rx="15.2" ry="17.3" fill="url(#shade)"/>
<ellipse cx="1286.0" cy="869.3" rx="15.2" ry="17.3" fill="url(#gC)"/>
<ellipse cx="1286.0" cy="869.3" rx="15.2" ry="17.3" fill="url(#shade)"/>
<ellipse cx="1322.5" cy="869.3" rx="15.2" ry="17.3" fill="url(#gC)"/>
<ellipse cx="1322.5" cy="869.3" rx="15.2" ry="17.3" fill="url(#shade)"/>
<ellipse cx="1358.9" cy="869.3" rx="15.2" ry="17.3" fill="url(#gC)"/>
<ellipse cx="1358.9" cy="869.3" rx="15.2" ry="17.3" fill="url(#shade)"/>
<ellipse cx="1395.3" cy="869.3" rx="15.2" ry="17.3" fill="url(#gC)"/>
<ellipse cx="1395.3" cy="869.3" rx="15.2" ry="17.3" fill="url(#shade)"/>
<ellipse cx="1431.8" cy="869.3" rx="15.2" ry="17.3" fill="url(#gC)"/>
<ellipse cx="1431.8" cy="869.3" rx="15.2" ry="17.3" fill="url(#shade)"/>
<ellipse cx="1468.2" cy="869.3" rx="15.2" ry="17.3" fill="url(#gC)"/>
<ellipse cx="1468.2" cy="869.3" rx="15.2" ry="17.3" fill="url(#shade)"/>
<ellipse cx="1504.7" cy="869.3" rx="15.2" ry="17.3" fill="url(#gC)"/>
<ellipse cx="1504.7" cy="869.3" rx="15.2" ry="17.3" fill="url(#shade)"/>
</g></g>
<use href="#slabd" filter="url(#soft2)" opacity="0.5"/>
<g id="m1c" filter="url(#soft)">
<path d="M170.3 765.4L176.5 767.3" stroke="#dcdcdc" stroke-width="4.6"/>
<path d="M176.5 767.3L182.7 769.3" stroke="#7c7c7c" stroke-width="4.6"/>
<path d="M197.0 775.2L189.8 772.2" stroke="#dcdcdc" stroke-width="4.6"/>
<path d="M189.8 772.2L182.7 769.3" stroke="#7c7c7c" stroke-width="4.6"/>
<circle cx="182.7" cy="769.3" r="5.6" fill="url(#sC)"/>
<circle cx="170.3" cy="765.4" r="5.7" fill="url(#sH)"/>
<circle cx="197" cy="775.2" r="5.7" fill="url(#sH)"/>
<circle cx="181.6" cy="774.2" r="5.9" fill="url(#sO)"/>
</g>
<g id="m2c" filter="url(#soft)">
<path d="M237.2 805.1L244.3 806.2" stroke="#dcdcdc" stroke-width="4.6"/>
<path d="M244.3 806.2L251.5 807.2" stroke="#7c7c7c" stroke-width="4.6"/>
<path d="M265.6 805.1L258.6 806.2" stroke="#dcdcdc" stroke-width="4.6"/>
<path d="M258.6 806.2L251.5 807.2" stroke="#7c7c7c" stroke-width="4.6"/>
<circle cx="251.5" cy="807.2" r="5.6" fill="url(#sC)"/>
<circle cx="237.2" cy="805.1" r="5.7" fill="url(#sH)"/>
<circle cx="265.6" cy="805.1" r="5.7" fill="url(#sH)"/>
<circle cx="251.5" cy="814.9" r="5.9" fill="url(#sO)"/>
</g>
<g id="m3c" filter="url(#soft)">
<path d="M348.0 804.0L355.2 807.8" stroke="#dcdcdc" stroke-width="4.6"/>
<path d="M355.2 807.8L362.5 811.5" stroke="#7c7c7c" stroke-width="4.6"/>
<path d="M377.3 802.9L369.9 807.2" stroke="#d83c5e" stroke-width="4.6"/>
<path d="M369.9 807.2L362.5 811.5" stroke="#7c7c7c" stroke-width="4.6"/>
<circle cx="348" cy="804" r="5.7" fill="url(#sH)"/>
<circle cx="377.3" cy="802.9" r="5.9" fill="url(#sO)"/>
<circle cx="362.5" cy="811.5" r="5.6" fill="url(#sC)"/>
</g>
<g id="m4c" filter="url(#soft)">
<path d="M468.2 816.4L475.4 810.3" stroke="#7c7c7c" stroke-width="4.6"/>
<path d="M475.4 810.3L482.5 804.2" stroke="#d83c5e" stroke-width="4.6"/>
<circle cx="468.2" cy="816.4" r="5.6" fill="url(#sC)"/>
<circle cx="482.5" cy="804.2" r="5.9" fill="url(#sO)"/>
</g>
<g id="m5c" filter="url(#soft)">
<path d="M559.0 812.7L567.8 811.5" stroke="#d83c5e" stroke-width="4.6"/>
<path d="M567.8 811.5L576.5 810.3" stroke="#7c7c7c" stroke-width="4.6"/>
<path d="M576.5 810.3L583.0 805.2" stroke="#7c7c7c" stroke-width="4.6"/>
<path d="M583.0 805.2L589.6 800.1" stroke="#d83c5e" stroke-width="4.6"/>
<circle cx="559" cy="812.7" r="5.9" fill="url(#sO)"/>
<circle cx="576.5" cy="810.3" r="5.6" fill="url(#sC)"/>
<circle cx="589.6" cy="800.1" r="5.9" fill="url(#sO)"/>
</g>
<g id="m6c" filter="url(#soft)">
<path d="M630.9 780.0L638.5 775.3" stroke="#d83c5e" stroke-width="4.6"/>
<path d="M638.5 775.3L646.0 770.6" stroke="#7c7c7c" stroke-width="4.6"/>
<path d="M646.0 770.6L653.1 767.0" stroke="#7c7c7c" stroke-width="4.6"/>
<path d="M653.1 767.0L660.3 763.3" stroke="#d83c5e" stroke-width="4.6"/>
<circle cx="630.9" cy="780" r="5.9" fill="url(#sO)"/>
<circle cx="646" cy="770.6" r="5.6" fill="url(#sC)"/>
<circle cx="660.3" cy="763.3" r="5.9" fill="url(#sO)"/>
</g>
<g id="m1d" filter="url(#soft)">
<path d="M951.6 766.0L958.0 768.1" stroke="#dcdcdc" stroke-width="4.6"/>
<path d="M958.0 768.1L964.4 770.3" stroke="#7c7c7c" stroke-width="4.6"/>
<path d="M978.5 775.5L971.5 772.9" stroke="#dcdcdc" stroke-width="4.6"/>
<path d="M971.5 772.9L964.4 770.3" stroke="#7c7c7c" stroke-width="4.6"/>
<circle cx="964.4" cy="770.3" r="5.6" fill="url(#sC)"/>
<circle cx="951.6" cy="766" r="5.7" fill="url(#sH)"/>
<circle cx="978.5" cy="775.5" r="5.7" fill="url(#sH)"/>
<circle cx="963.6" cy="774.9" r="5.9" fill="url(#sO)"/>
</g>
<g id="m2d" filter="url(#soft)">
<path d="M1018.3 805.7L1025.4 807.0" stroke="#dcdcdc" stroke-width="4.6"/>
<path d="M1025.4 807.0L1032.5 808.3" stroke="#7c7c7c" stroke-width="4.6"/>
<path d="M1046.6 805.7L1039.5 807.0" stroke="#dcdcdc" stroke-width="4.6"/>
<path d="M1039.5 807.0L1032.5 808.3" stroke="#7c7c7c" stroke-width="4.6"/>
<circle cx="1032.5" cy="808.3" r="5.6" fill="url(#sC)"/>
<circle cx="1018.3" cy="805.7" r="5.7" fill="url(#sH)"/>
<circle cx="1046.6" cy="805.7" r="5.7" fill="url(#sH)"/>
<circle cx="1032.5" cy="815.8" r="5.9" fill="url(#sO)"/>
</g>
<g id="m3d" filter="url(#soft)">
<path d="M1148.2 789.9L1148.5 796.5" stroke="#dcdcdc" stroke-width="4.6"/>
<path d="M1148.5 796.5L1148.8 803.0" stroke="#d83c5e" stroke-width="4.6"/>
<path d="M1131.9 812.5L1139.4 811.5" stroke="#dcdcdc" stroke-width="4.6"/>
<path d="M1139.4 811.5L1146.9 810.4" stroke="#7c7c7c" stroke-width="4.6"/>
<path d="M1160.5 815.3L1153.7 812.8" stroke="#d83c5e" stroke-width="4.6"/>
<path d="M1153.7 812.8L1146.9 810.4" stroke="#7c7c7c" stroke-width="4.6"/>
<path d="M1148.8 803.0L1147.8 806.7" stroke="#d83c5e" stroke-width="4.6"/>
<path d="M1147.8 806.7L1146.9 810.4" stroke="#7c7c7c" stroke-width="4.6"/>
<circle cx="1148.2" cy="789.9" r="5.7" fill="url(#sH)"/>
<circle cx="1148.8" cy="803" r="5.9" fill="url(#sO)"/>
<circle cx="1131.9" cy="812.5" r="5.7" fill="url(#sH)"/>
<circle cx="1160.5" cy="815.3" r="5.9" fill="url(#sO)"/>
<circle cx="1146.9" cy="810.4" r="5.6" fill="url(#sC)"/>
</g>
<g id="m4d" filter="url(#soft)">
<path d="M1249.9 797.6L1250.8 803.0" stroke="#dcdcdc" stroke-width="4.6"/>
<path d="M1250.8 803.0L1251.8 808.5" stroke="#7c7c7c" stroke-width="4.6"/>
<path d="M1235.4 811.2L1243.6 809.9" stroke="#d83c5e" stroke-width="4.6"/>
<path d="M1243.6 809.9L1251.8 808.5" stroke="#7c7c7c" stroke-width="4.6"/>
<path d="M1268.9 812.3L1260.3 810.4" stroke="#d83c5e" stroke-width="4.6"/>
<path d="M1260.3 810.4L1251.8 808.5" stroke="#7c7c7c" stroke-width="4.6"/>
<circle cx="1249.9" cy="797.6" r="5.7" fill="url(#sH)"/>
<circle cx="1235.4" cy="811.2" r="5.9" fill="url(#sO)"/>
<circle cx="1268.9" cy="812.3" r="5.9" fill="url(#sO)"/>
<circle cx="1251.8" cy="808.5" r="5.6" fill="url(#sC)"/>
</g>
<g id="m5d" filter="url(#soft)">
<path d="M1337.2 813.1L1345.7 812.2" stroke="#d83c5e" stroke-width="4.6"/>
<path d="M1345.7 812.2L1354.1 811.2" stroke="#7c7c7c" stroke-width="4.6"/>
<path d="M1354.1 811.2L1361.0 806.0" stroke="#7c7c7c" stroke-width="4.6"/>
<path d="M1361.0 806.0L1368.0 800.8" stroke="#d83c5e" stroke-width="4.6"/>
<circle cx="1337.2" cy="813.1" r="5.9" fill="url(#sO)"/>
<circle cx="1354.1" cy="811.2" r="5.6" fill="url(#sC)"/>
<circle cx="1368" cy="800.8" r="5.9" fill="url(#sO)"/>
</g>
<g id="m6d" filter="url(#soft)">
<path d="M1410.2 780.9L1416.0 775.2" stroke="#d83c5e" stroke-width="4.6"/>
<path d="M1416.0 775.2L1421.7 769.5" stroke="#7c7c7c" stroke-width="4.6"/>
<path d="M1421.7 769.5L1427.8 764.0" stroke="#7c7c7c" stroke-width="4.6"/>
<path d="M1427.8 764.0L1433.9 758.6" stroke="#d83c5e" stroke-width="4.6"/>
<circle cx="1410.2" cy="780.9" r="5.9" fill="url(#sO)"/>
<circle cx="1421.7" cy="769.5" r="5.6" fill="url(#sC)"/>
<circle cx="1433.9" cy="758.6" r="5.9" fill="url(#sO)"/>
</g>
<g id="pc">
<rect x="101.10000000000001" y="912.0" width="5.6" height="359.9000000000001" fill="#000"/>
<path d="M103.9 981.3H115.10000000000001M103.9 1055.0H115.10000000000001M103.9 1128.8H115.10000000000001M103.9 1202.5H115.10000000000001" stroke="#000" stroke-width="4.6" stroke-linecap="round" fill="none"/>
<path d="M103.9 944.2H109.7M103.9 1018.0H109.7M103.9 1092.0H109.7M103.9 1165.5H109.7M103.9 1239.1H109.7" stroke="#000" stroke-width="4.2" stroke-linecap="round" fill="none"/>
<text transform="translate(78.87,919.92) scale(1,1.0178)" font-size="27.68" fill="#000">8</text>
<text transform="translate(78.71,990.32) scale(1,0.9972)" font-size="28.25" fill="#000">6</text>
<text transform="translate(79.00,1064.60) scale(1,1.0921)" font-size="26.54" fill="#000">4</text>
<text transform="translate(78.92,1138.60) scale(1,1.0159)" font-size="28.12" fill="#000">2</text>
<text transform="translate(78.58,1212.52) scale(1,1.0060)" font-size="28.00" fill="#000">0</text>
<text transform="translate(71.48,1283.10) scale(1,1.0240)" font-size="27.90" fill="#000">-2</text>
<text transform="translate(56.00,1208.05) rotate(-90) scale(1,1.0364)" font-size="28.53" fill="#000">Free Energy (eV)</text>
<path d="M155.8 1208.2L203.6 1208.2" stroke="#17A8F8" stroke-width="5.2" fill="none" stroke-linecap="round"/>
<path d="M203.6 1208.4L223.2 1209.0" stroke="#17A8F8" stroke-width="3.0" fill="none" stroke-linecap="round"/>
<path d="M255.9 1209.0L301.1 1209.0" stroke="#17A8F8" stroke-width="5.2" fill="none" stroke-linecap="round"/>
<path d="M240 1209.7L254 1209.2" stroke="#17A8F8" stroke-width="3" stroke-linecap="round"/>
<path d="M350.79999999999995 1093.8L399.70000000000005 1093.8" stroke="#17A8F8" stroke-width="5.2" fill="none" stroke-linecap="round"/>
<path d="M447.59999999999997 976.7L497.40000000000003 976.7" stroke="#17A8F8" stroke-width="5.2" fill="none" stroke-linecap="round"/>
<path d="M544.3 1256.0L594.4 1256.0" stroke="#17A8F8" stroke-width="5.2" fill="none" stroke-linecap="round"/>
<path d="M594.4 1256.0L611.8 1255.2" stroke="#17A8F8" stroke-width="3.0" fill="none" stroke-linecap="round"/>
<path d="M644.9 1254.7L690.9 1254.7" stroke="#17A8F8" stroke-width="5.2" fill="none" stroke-linecap="round"/>
<path d="M628.7 1255.4L643 1254.9" stroke="#17A8F8" stroke-width="3" stroke-linecap="round"/>
<path d="M303.8 1209.1L308.4 1197.2M314.9 1180.8L319.5 1168.9M326.0 1152.4L330.6 1140.6M337.0 1124.1L341.7 1112.3M348.1 1095.8L348.3 1095.3" stroke="#17A8F8" stroke-width="3.3" fill="none" stroke-linecap="round"/>
<path d="M401.8 1093.1L406.3 1081.2M412.4 1065.0L416.9 1053.1M423.1 1037.0L427.6 1025.1M433.7 1008.9L438.2 997.0M444.4 980.9L445.7 977.3" stroke="#17A8F8" stroke-width="3.3" fill="none" stroke-linecap="round"/>
<path d="M499.8 978.0L501.6 990.0M504.3 1007.4L506.1 1019.3M508.8 1036.7L510.6 1048.7M513.3 1066.1L515.1 1078.1M517.8 1095.5L519.6 1107.4M522.3 1124.8L524.1 1136.8M526.8 1154.2L528.6 1166.1M531.3 1183.5L533.1 1195.5M535.8 1212.9L537.6 1224.8M540.3 1242.2L542.1 1254.2" stroke="#17A8F8" stroke-width="3.3" fill="none" stroke-linecap="round"/>
<text transform="translate(148.43,1243.40) scale(1,1.0227)" font-size="24.09" fill="#000">HCHO</text>
<text transform="translate(240.36,1243.40) scale(1,1.0393)" font-size="23.71" fill="#000">HCHO*</text>
<text transform="translate(345.63,1126.30) scale(1,1.0220)" font-size="24.25" fill="#000">CHO*</text>
<text transform="translate(453.49,1007.25) scale(1,0.9853)" font-size="25.16" fill="#000">CO</text>
<text transform="translate(542.23,1291.35) scale(1,1.0131)" font-size="24.19" fill="#000">COO*</text>
<text transform="translate(645.37,1288.79) scale(1,0.9400)" font-size="25.72" fill="#000">CO<tspan dy="5.53" font-size="16.85">2</tspan></text>
<text transform="translate(191.40,1193.36) scale(1,0.9645)" font-size="24.97" fill="#17A8F8">0.03 eV</text>
<text transform="translate(332.79,1045.66) scale(1,0.9838)" font-size="24.48" fill="#17A8F8">3.07 eV</text>
<text transform="translate(328.12,1171.16) scale(1,0.9603)" font-size="25.08" fill="#17A8F8">2.99 eV</text>
<text transform="translate(534.91,1125.06) scale(1,0.9577)" font-size="24.85" fill="#17A8F8">7.32 eV</text>
<text transform="translate(579.90,1241.66) scale(1,0.9510)" font-size="25.03" fill="#17A8F8">0.06 eV</text>
<text transform="translate(33.16,771.44) scale(1,1.0055)" font-size="55.88" fill="#000">c</text>
<text transform="translate(743.02,878.90) scale(1,1.0539)" font-size="22.83" fill="#000">Pt/C</text>
</g>
<g id="pd">
<rect x="904.4000000000001" y="910.9" width="5.6" height="359.6" fill="#000"/>
<path d="M907.2 980.6H918.4000000000001M907.2 1054.1H918.4000000000001M907.2 1127.6H918.4000000000001M907.2 1201.1H918.4000000000001" stroke="#000" stroke-width="4.6" stroke-linecap="round" fill="none"/>
<path d="M907.2 943.2H913.0M907.2 1017.2H913.0M907.2 1090.8H913.0M907.2 1164.2H913.0M907.2 1238.2H913.0" stroke="#000" stroke-width="4.2" stroke-linecap="round" fill="none"/>
<text transform="translate(880.28,921.70) scale(1,0.9894)" font-size="29.17" fill="#000">2</text>
<text transform="translate(880.12,990.52) scale(1,0.9557)" font-size="29.47" fill="#000">0</text>
<text transform="translate(873.78,1064.60) scale(1,1.0343)" font-size="27.90" fill="#000">-2</text>
<text transform="translate(873.83,1138.40) scale(1,1.0946)" font-size="26.75" fill="#000">-4</text>
<text transform="translate(873.79,1212.22) scale(1,1.0260)" font-size="27.73" fill="#000">-6</text>
<text transform="translate(873.80,1282.92) scale(1,1.0323)" font-size="27.56" fill="#000">-8</text>
<text transform="translate(849.70,1208.05) rotate(-90) scale(1,1.0415)" font-size="28.53" fill="#000">Free Energy (eV)</text>
<path d="M955.0 980.4L1003.8 980.4" stroke="#FA8018" stroke-width="5.2" fill="none" stroke-linecap="round"/>
<path d="M1003.8 980.6L1022.6 981.5" stroke="#FA8018" stroke-width="3.0" fill="none" stroke-linecap="round"/>
<path d="M1051.6000000000001 982.3L1100.1 982.3" stroke="#FA8018" stroke-width="5.2" fill="none" stroke-linecap="round"/>
<path d="M1039 981.6L1050 982.2" stroke="#FA8018" stroke-width="3" stroke-linecap="round"/>
<path d="M1149.3000000000002 1261.2L1195.8 1261.2" stroke="#FA8018" stroke-width="5.2" fill="none" stroke-linecap="round"/>
<path d="M1245.0 1145.3L1291.8999999999999 1145.3" stroke="#FA8018" stroke-width="5.2" fill="none" stroke-linecap="round"/>
<path d="M1342.1000000000001 1019.2L1387.6 1019.2" stroke="#FA8018" stroke-width="5.2" fill="none" stroke-linecap="round"/>
<path d="M1387.6 1019.3L1408.6 1021.8" stroke="#FA8018" stroke-width="3.0" fill="none" stroke-linecap="round"/>
<path d="M1439.6000000000001 1025.5L1484.3999999999999 1025.5" stroke="#FA8018" stroke-width="5.2" fill="none" stroke-linecap="round"/>
<path d="M1425.3 1023.3L1438 1025.2" stroke="#FA8018" stroke-width="3" stroke-linecap="round"/>
<path d="M1102.9 983.1L1104.6 993.7M1107.5 1011.3L1109.3 1021.9M1112.2 1039.5L1113.9 1050.0M1116.8 1067.6L1118.5 1078.2M1121.4 1095.8L1123.2 1106.4M1126.1 1124.0L1127.8 1134.5M1130.7 1152.1L1132.5 1162.7M1135.4 1180.3L1137.1 1190.9M1140.0 1208.5L1141.8 1219.0M1144.7 1236.7L1146.4 1247.2" stroke="#FA8018" stroke-width="3.3" fill="none" stroke-linecap="round"/>
<path d="M1198.2 1256.5L1202.6 1245.6M1209.2 1229.0L1213.6 1218.1M1220.3 1201.5L1224.6 1190.7M1231.3 1174.1L1235.7 1163.2M1242.4 1146.6L1242.8 1145.5" stroke="#FA8018" stroke-width="3.3" fill="none" stroke-linecap="round"/>
<path d="M1293.5 1144.8L1297.5 1133.8M1303.7 1117.1L1307.8 1106.1M1314.0 1089.4L1318.1 1078.5M1324.2 1061.8L1328.3 1050.8M1334.5 1034.1L1338.6 1023.1" stroke="#FA8018" stroke-width="3.3" fill="none" stroke-linecap="round"/>
<text transform="translate(944.63,1016.60) scale(1,1.0092)" font-size="24.13" fill="#000">HCHO</text>
<text transform="translate(1024.76,1018.70) scale(1,1.0271)" font-size="23.71" fill="#000">HCHO*</text>
<text transform="translate(1130.85,1294.20) scale(1,1.0265)" font-size="23.86" fill="#000">HCOOH*</text>
<text transform="translate(1245.63,1182.40) scale(1,1.0272)" font-size="24.13" fill="#000">HCOO*</text>
<text transform="translate(1342.25,1052.66) scale(1,1.0217)" font-size="23.85" fill="#000">COO*</text>
<text transform="translate(1443.50,1059.86) scale(1,0.9733)" font-size="24.89" fill="#000">CO<tspan dy="5.35" font-size="16.30">2</tspan></text>
<text transform="translate(981.81,968.76) scale(1,0.9691)" font-size="24.85" fill="#FA8018">0.06 eV</text>
<text transform="translate(1029.43,1141.46) scale(1,0.9670)" font-size="24.32" fill="#FA8018">7.60 eV</text>
<text transform="translate(1228.39,1237.16) scale(1,0.9758)" font-size="24.39" fill="#FA8018">3.15 eV</text>
<text transform="translate(1327.09,1097.66) scale(1,0.9829)" font-size="24.22" fill="#FA8018">3.44 eV</text>
<text transform="translate(1374.32,1007.86) scale(1,0.9681)" font-size="24.59" fill="#FA8018">0.17 eV</text>
<text transform="translate(832.25,771.25) scale(1,0.9846)" font-size="56.24" fill="#000">d</text>
<text transform="translate(1540.50,878.80) scale(1,1.0210)" font-size="23.14" fill="#000">Pt<tspan dy="4.97" font-size="15.15">2.32</tspan><tspan dy="-4.97">Co-N</tspan><tspan dy="4.97" font-size="15.15">10</tspan><tspan dy="-4.97">/CNT</tspan></text>
</g>
</svg>
</body></html>
